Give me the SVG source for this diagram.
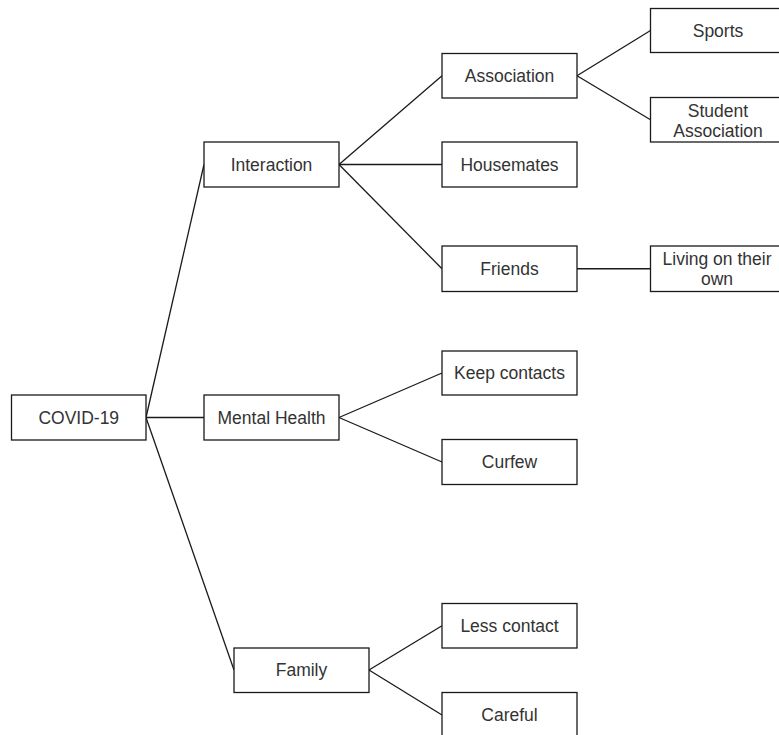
<svg xmlns="http://www.w3.org/2000/svg" width="779" height="735" viewBox="0 0 779 735">
<style>
rect{fill:#fff;stroke:#1a1a1a;stroke-width:1.3}
text{font-family:"Liberation Sans",Arial,sans-serif;font-size:17.5px;fill:#333;text-anchor:middle}
#edges line{stroke:#1a1a1a;stroke-width:1.3}
</style>
<rect x="0" y="0" width="779" height="735" style="fill:#fff;stroke:none"/>
<g id="edges">
<line x1="146" y1="417.5" x2="204" y2="164.5"/>
<line x1="146" y1="417.5" x2="204" y2="417.5"/>
<line x1="146" y1="417.5" x2="234" y2="670"/>
<line x1="339" y1="164.5" x2="442" y2="75.75"/>
<line x1="339" y1="164.5" x2="442" y2="164.5"/>
<line x1="339" y1="164.5" x2="442" y2="268.75"/>
<line x1="577" y1="75.75" x2="650.5" y2="30.5"/>
<line x1="577" y1="75.75" x2="650.5" y2="119.75"/>
<line x1="577" y1="268.75" x2="650.5" y2="268.75"/>
<line x1="339" y1="417.5" x2="442" y2="373"/>
<line x1="339" y1="417.5" x2="442" y2="462"/>
<line x1="369" y1="670" x2="442" y2="625.75"/>
<line x1="369" y1="670" x2="442" y2="715"/>
</g>
<g id="covid"><rect x="11.5" y="395" width="134.5" height="45"/><text x="78.75" y="423.8">COVID-19</text></g>
<g id="interaction"><rect x="204" y="142" width="135" height="45"/><text x="271.5" y="170.8">Interaction</text></g>
<g id="mental"><rect x="204" y="395" width="135" height="45"/><text x="271.5" y="423.8">Mental Health</text></g>
<g id="family"><rect x="234" y="648" width="135" height="44.5"/><text x="301.5" y="676.3">Family</text></g>
<g id="association"><rect x="442" y="53.5" width="135" height="44.5"/><text x="509.5" y="82">Association</text></g>
<g id="housemates"><rect x="442" y="142" width="135" height="45"/><text x="509.5" y="170.8">Housemates</text></g>
<g id="friends"><rect x="442" y="246" width="135" height="45.5"/><text x="509.5" y="275">Friends</text></g>
<g id="sports"><rect x="650.5" y="8.5" width="135" height="44"/><text x="718" y="36.8">Sports</text></g>
<g id="student"><rect x="650.5" y="97.5" width="135" height="44.5"/><text x="718" y="117.3">Student</text><text x="718" y="137.3">Association</text></g>
<g id="living"><rect x="650.5" y="246" width="135" height="45.5"/><text x="717" y="264.5">Living on their</text><text x="717" y="284.5">own</text></g>
<g id="keep"><rect x="442" y="351" width="135" height="44"/><text x="509.5" y="379.3">Keep contacts</text></g>
<g id="curfew"><rect x="442" y="439.5" width="135" height="45"/><text x="509.5" y="468.3">Curfew</text></g>
<g id="less"><rect x="442" y="603.5" width="135" height="44.5"/><text x="509.5" y="632">Less contact</text></g>
<g id="careful"><rect x="442" y="692.5" width="135" height="45"/><text x="509.5" y="721.3">Careful</text></g>
</svg>
